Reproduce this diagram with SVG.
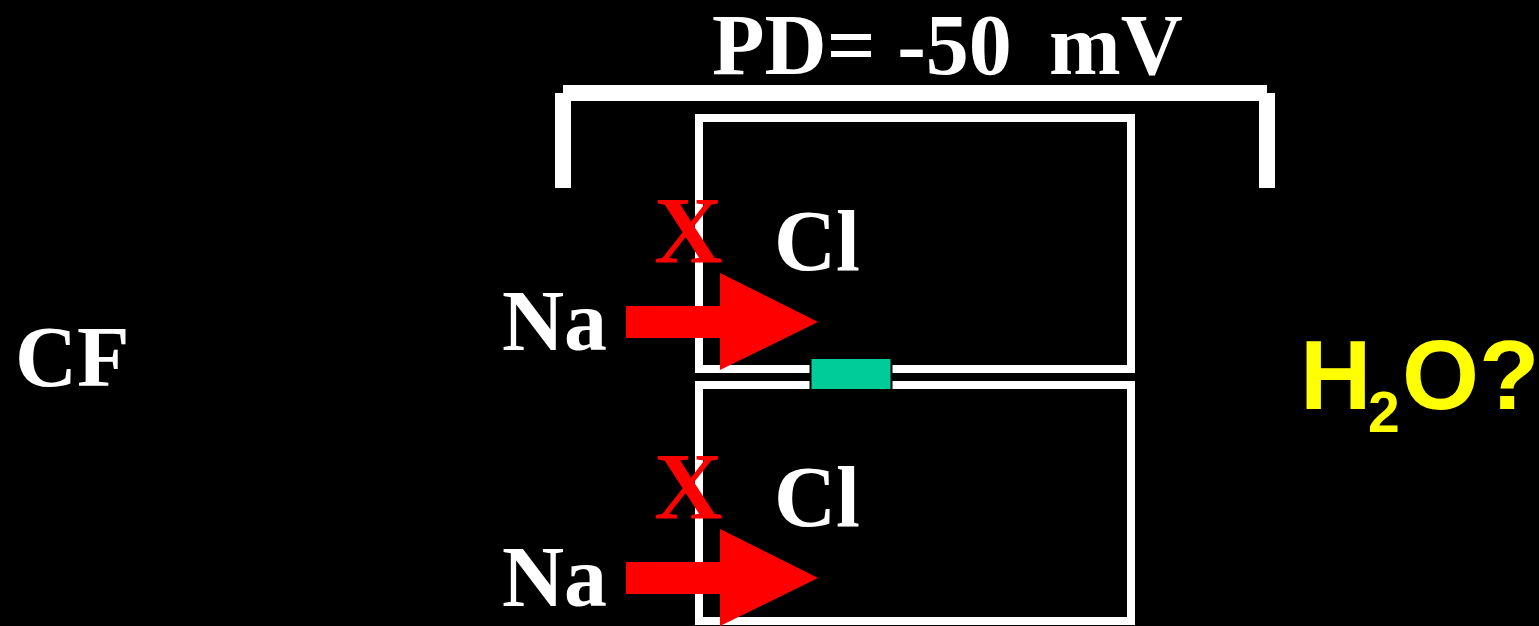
<svg xmlns="http://www.w3.org/2000/svg" width="1539" height="626" viewBox="0 0 1539 626">
<style>
.t{font-family:"Liberation Serif","Times New Roman",serif;font-weight:bold;font-size:86px;fill:#ffffff}
.x{font-family:"Liberation Serif","Times New Roman",serif;font-weight:bold;font-size:95px;fill:#ff0000}
.h{font-family:"Liberation Sans",Arial,sans-serif;font-weight:bold;fill:#ffff00}
.box{fill:none;stroke:#ffffff;stroke-width:8}
.arrow{fill:#ff0000}
.br{fill:#ffffff}
</style>
<defs>
<path id="arr" d="M626,306 H720 V273 L818,322 L720,370 V338 H626 Z"/>
</defs>
<rect x="0" y="0" width="1539" height="626" fill="#000000"/>
<g id="bracket">
<rect class="br" x="563" y="85" width="704" height="16"/>
<rect class="br" x="555" y="93" width="16" height="95"/>
<rect class="br" x="1259" y="93" width="16" height="95"/>
<text class="t" x="712" y="74">PD= -50<tspan x="1049">mV</tspan></text>
</g>
<g id="cf"><text class="t" x="15" y="386">CF</text></g>
<g id="cell-upper">
<rect class="box" x="699" y="118" width="432" height="251"/>
<text class="t" x="774" y="270">Cl</text>
</g>
<g id="cell-lower">
<rect class="box" x="699" y="385" width="432" height="236"/>
<text class="t" x="774" y="526">Cl</text>
</g>
<g id="junction">
<rect x="810.5" y="358" width="81" height="32" fill="#00cc99" stroke="#000000" stroke-width="2"/>
</g>
<g id="connectors">
<use href="#arr" class="arrow"/>
<use href="#arr" class="arrow" transform="translate(0,256)"/>
</g>
<g id="na-upper"><text class="t" x="502" y="350">Na</text></g>
<g id="na-lower"><text class="t" x="502" y="606">Na</text></g>
<g id="x-upper"><text class="x" x="654" y="263">X</text></g>
<g id="x-lower"><text class="x" x="654" y="519">X</text></g>
<g id="h2o">
<text class="h"><tspan x="1300" y="409" font-size="99">H</tspan><tspan x="1368" y="432" font-size="57">2</tspan><tspan x="1402" y="409" font-size="99">O?</tspan></text>
</g>
</svg>
